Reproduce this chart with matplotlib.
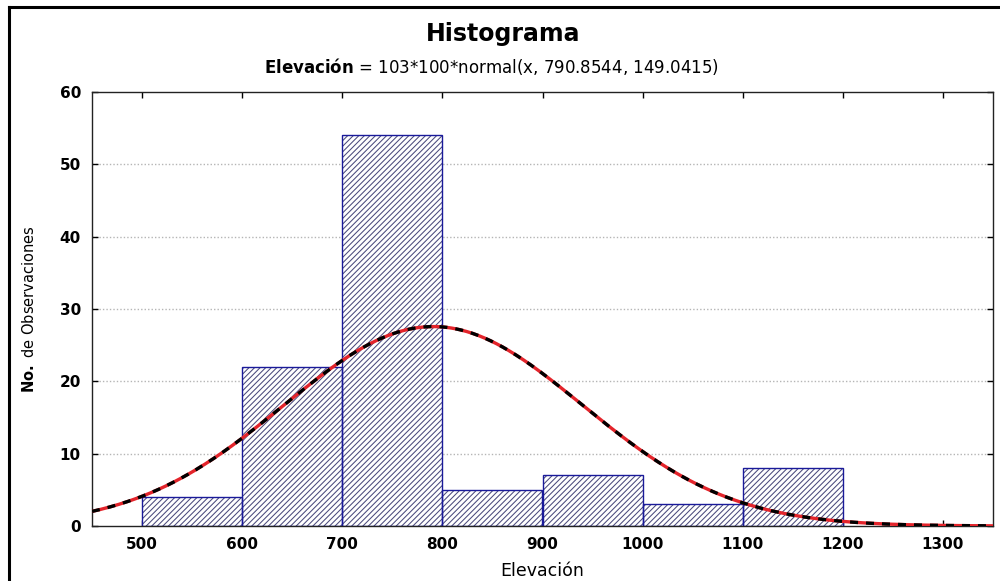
import numpy as np
import matplotlib
matplotlib.use("Agg")
import matplotlib.pyplot as plt
from matplotlib.lines import Line2D

# ---- data ----
bin_edges = [500, 600, 700, 800, 900, 1000, 1100, 1200]
counts = [4, 22, 54, 5, 7, 3, 8]
n_obs = 103
bin_width = 100
fit_mean = 790.8544
fit_sd = 149.0415
x_ticks = [500, 600, 700, 800, 900, 1000, 1100, 1200, 1300]
y_ticks = [0, 10, 20, 30, 40, 50, 60]

plt.rcParams['font.family'] = ['DejaVu Sans']
plt.rcParams['hatch.linewidth'] = 0.75

fig = plt.figure(figsize=(10, 5.81), dpi=100)
ax = fig.add_axes([0.092, 1 - 526 / 581, 0.901, (526 - 92) / 581])

lefts = bin_edges[:-1]
widths = np.diff(bin_edges)
# hatch layer (edge colour drives hatch colour)
ax.bar(lefts, counts, width=widths, align='edge', facecolor='white',
       edgecolor='#4a4a7c', linewidth=0, hatch='//////', zorder=2)
# outline layer
ax.bar(lefts, counts, width=widths, align='edge', facecolor='none',
       edgecolor='#1a1a9a', linewidth=1.0, zorder=2.5)

xs = np.linspace(450, 1350, 600)
ys = n_obs * bin_width * np.exp(-0.5 * ((xs - fit_mean) / fit_sd) ** 2) / (fit_sd * np.sqrt(2 * np.pi))
ax.plot(xs, ys, color='#e3242b', lw=2.4, zorder=3, solid_capstyle='butt')
ax.plot(xs, ys, color='black', lw=2.4, zorder=4, dashes=(2.4, 2.4))

ax.set_xlim(450, 1350)
ax.set_ylim(0, 60)
ax.set_xticks(x_ticks)
ax.set_yticks(y_ticks)
ax.set_axisbelow(True)
for yv in y_ticks[1:-1]:
    ax.axhline(yv, color='#b5b5b5', lw=1.0, ls=(0, (1, 1.5)), zorder=0)

ax.tick_params(direction='in', length=4, width=1, top=True, right=True,
               labelsize=11, pad=8)
for lab in ax.get_xticklabels() + ax.get_yticklabels():
    lab.set_fontweight('bold')
for s in ax.spines.values():
    s.set_linewidth(1.0)
    s.set_color('#222222')

ax.set_xlabel('Elevación', fontsize=12.5)
ax.xaxis.set_label_coords(0.5, -0.082)
ax.set_ylabel(r'$\mathbf{No.}$ de Observaciones', fontsize=10.5)
ax.yaxis.set_label_coords(-0.061, 0.5)

fig.text(0.503, 1 - 41 / 581, 'Histograma', ha='center', va='baseline',
         fontsize=17, fontweight='bold')
fig.text(0.492, 1 - 73 / 581,
         r'$\mathbf{Elevación}$ = 103*100*normal(x, 790.8544, 149.0415)',
         ha='center', va='baseline', fontsize=12)

# outer frame
fig.add_artist(Line2D([9 / 1000, 1.0], [1 - 6.5 / 581, 1 - 6.5 / 581],
                      transform=fig.transFigure, color='black', lw=2.2))
fig.add_artist(Line2D([9 / 1000, 9 / 1000], [0.0, 1 - 6.5 / 581],
                      transform=fig.transFigure, color='black', lw=2.2))

fig.savefig('out.png', dpi=100)
